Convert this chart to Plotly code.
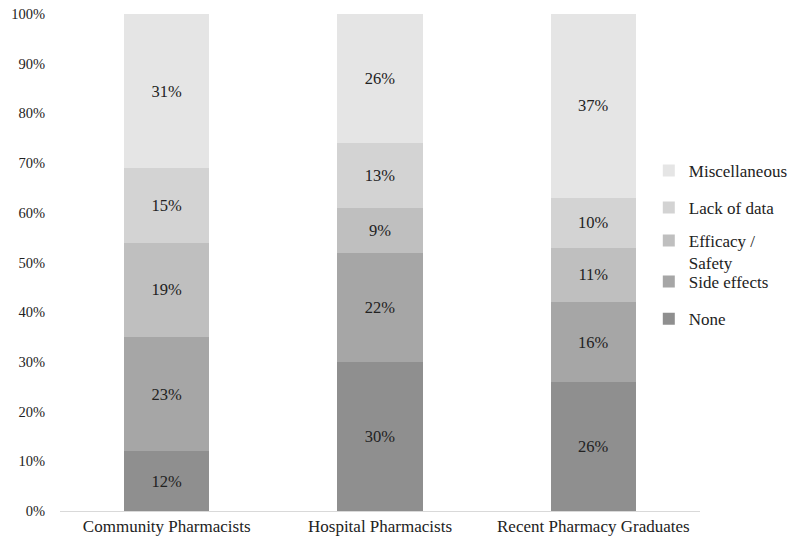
import plotly.graph_objects as go

categories = ["Community Pharmacists", "Hospital Pharmacists", "Recent Pharmacy Graduates"]
series_names = ["None", "Side effects", "Efficacy /<br>Safety", "Lack of data", "Miscellaneous"]
none_vals = [12, 30, 26]
side_vals = [23, 22, 16]
efficacy_vals = [19, 9, 11]
lack_vals = [15, 13, 10]
misc_vals = [31, 26, 37]
colors = ["#8f8f8f", "#a6a6a6", "#bfbfbf", "#d3d3d3", "#e5e5e5"]
y_ticks = [0, 10, 20, 30, 40, 50, 60, 70, 80, 90, 100]

all_vals = [none_vals, side_vals, efficacy_vals, lack_vals, misc_vals]
legend_ids = ["legend", "legend2", "legend3", "legend4", "legend5"]
legend_y = [0.386, 0.461, 0.521, 0.610, 0.684]
font = "Liberation Serif, Times New Roman, serif"

fig = go.Figure()
for name, vals, col, lid in zip(series_names, all_vals, colors, legend_ids):
    fig.add_trace(go.Bar(
        x=categories, y=vals, name=name,
        marker=dict(color=col, line=dict(width=0)),
        text=[f"{v}%" for v in vals],
        textposition="inside", insidetextanchor="middle",
        textfont=dict(family=font, size=16.5, color="#222222"),
        legend=lid,
    ))

legend_common = dict(
    x=0.92, xanchor="left", yanchor="middle", valign="top",
    font=dict(family=font, size=17, color="#222222"),
    itemwidth=30, bgcolor="rgba(0,0,0,0)",
)
layout_legends = {lid: dict(legend_common, y=ly) for lid, ly in zip(legend_ids, legend_y)}

fig.update_layout(
    barmode="stack",
    bargap=0.6,
    width=800, height=548,
    margin=dict(l=60, r=100, t=14, b=37, autoexpand=False),
    plot_bgcolor="white", paper_bgcolor="white",
    font=dict(family=font, size=16, color="#222222"),
    showlegend=True,
    uniformtext=dict(mode="show", minsize=10),
    **layout_legends,
)
fig.update_yaxes(
    range=[0, 100], tickvals=y_ticks, ticktext=[f"{t}%" for t in y_ticks],
    showgrid=False, zeroline=False, showline=False, ticks="",
    ticklabelstandoff=14, automargin=False,
    tickfont=dict(family=font, size=14.5, color="#222222"),
)
fig.update_xaxes(
    showline=True, linecolor="#d9d9d9", linewidth=1, ticks="",
    showgrid=False, automargin=False,
    tickfont=dict(family=font, size=17, color="#222222"),
)

fig.write_html("out.html", config={"displayModeBar": False},
               post_script="document.body.style.margin='0';")
